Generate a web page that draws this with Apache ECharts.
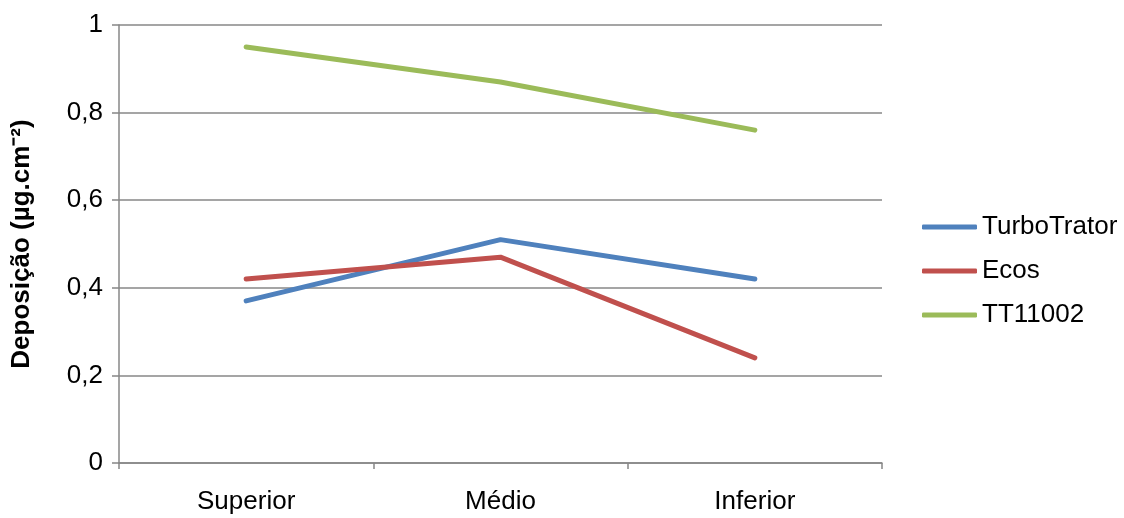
<!DOCTYPE html>
<html><head><meta charset="utf-8">
<script src="https://cdn.jsdelivr.net/npm/echarts@6/dist/echarts.min.js"></script>
<style>html,body{margin:0;padding:0;background:#fff}#c{width:1124px;height:518px}</style>
</head><body><div id="c"></div>
<script>
const categories = ['Superior', 'Médio', 'Inferior'];
const turboTrator = [0.37, 0.51, 0.42];
const ecos = [0.42, 0.47, 0.24];
const tt11002 = [0.95, 0.87, 0.76];
const seriesNames = ['TurboTrator', 'Ecos', 'TT11002'];
const colors = ['#4F81BD', '#C0504D', '#9BBB59'];

const font = "'Liberation Sans', Arial, sans-serif";
const fs = 26;
const chart = echarts.init(document.getElementById('c'));
const mk = (name, data, color) => ({
  name, type: 'line', data, symbol: 'none', color,
  itemStyle: { color },
  lineStyle: { width: 5, color, cap: 'round' }
});
chart.setOption({
  animation: false,
  textStyle: { fontFamily: font },
  grid: { left: 119, right: 242, top: 25, bottom: 55 },
  legend: {
    orient: 'vertical', left: 917, top: 209, itemGap: 18,
    itemWidth: 55, itemHeight: 5, icon: 'roundRect',
    textStyle: { fontSize: fs, color: '#000', fontFamily: font },
    data: seriesNames
  },
  xAxis: {
    type: 'category', data: categories, boundaryGap: true,
    axisLine: { lineStyle: { color: '#878787', width: 1.5 } },
    axisTick: { show: true, length: 6, lineStyle: { color: '#878787', width: 1.5 } },
    axisLabel: { fontSize: fs, color: '#000', margin: 26, fontFamily: font }
  },
  yAxis: {
    type: 'value', min: 0, max: 1, interval: 0.2,
    name: 'Deposição (µg.cm⁻²)', nameLocation: 'middle', nameGap: 84, nameRotate: 90,
    nameTextStyle: { fontSize: fs, fontWeight: 'bold', color: '#000', fontFamily: font },
    axisLine: { show: true, lineStyle: { color: '#878787', width: 1.5 } },
    axisTick: { show: true, length: 7, lineStyle: { color: '#878787', width: 1.5 } },
    splitLine: { lineStyle: { color: '#878787', width: 1.5 } },
    axisLabel: { fontSize: fs, color: '#000', margin: 16, fontFamily: font,
      formatter: v => String(+v.toFixed(1)).replace('.', ',') }
  },
  series: [mk(seriesNames[0], turboTrator, colors[0]), mk(seriesNames[1], ecos, colors[1]), mk(seriesNames[2], tt11002, colors[2])]
});
</script></body></html>
